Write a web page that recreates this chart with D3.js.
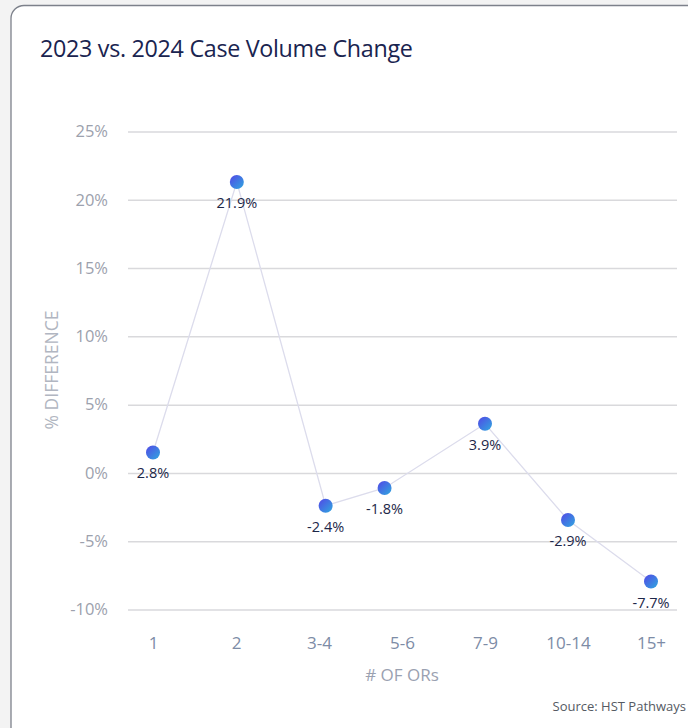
<!DOCTYPE html>
<html>
<head>
<meta charset="utf-8">
<script src="https://cdn.jsdelivr.net/npm/d3@7"></script>
<style>
  html, body { margin: 0; padding: 0; background: #f3f3f3; }
  svg { display: block; }
</style>
</head>
<body>
<svg id="chart" width="688" height="728"></svg>
<script>
// ---- data ----
const categories = ["1", "2", "3-4", "5-6", "7-9", "10-14", "15+"];
const plottedValues = [1.5, 21.3, -2.4, -1.1, 3.6, -3.45, -7.95];
const valueLabels = ["2.8%", "21.9%", "-2.4%", "-1.8%", "3.9%", "-2.9%", "-7.7%"];
const xShift = [0, 0.01, 0.08, -0.21, 0, 0, 0];
const yTicks = [-10, -5, 0, 5, 10, 15, 20, 25];
const title = "2023 vs. 2024 Case Volume Change";
const yTitle = "% DIFFERENCE";
const xTitle = "# OF ORs";
const source = "Source: HST Pathways";

const svg = d3.select("#chart");
const font = "'Open Sans', 'Noto Sans', sans-serif";

// card
svg.append("rect")
  .attr("x", 11).attr("y", 5.5).attr("width", 700).attr("height", 760)
  .attr("rx", 13).attr("fill", "#ffffff")
  .attr("stroke", "#7d818b").attr("stroke-width", 1.3);

const defs = svg.append("defs");
const grad = defs.append("linearGradient").attr("id", "dotGrad")
  .attr("x1", "0%").attr("y1", "0%").attr("x2", "100%").attr("y2", "100%");
grad.append("stop").attr("offset", "0%").attr("stop-color", "#5247e6");
grad.append("stop").attr("offset", "100%").attr("stop-color", "#2fa8df");

// title
svg.append("text").attr("x", 40).attr("y", 57)
  .attr("font-family", font).attr("font-size", 23.3)
  .attr("fill", "#1a2450").attr("letter-spacing", -0.3)
  .text(title);

const x = d3.scalePoint().domain(categories).range([153, 651]);
const step = x.step();
const y = d3.scaleLinear().domain([-10, 25]).range([609.5, 131.5]);

// grid + y labels
const gy = svg.append("g").attr("transform", "translate(128,0)");
gy.call(d3.axisLeft(y).tickValues(yTicks).tickSize(-549).tickFormat(d => d + "%").tickPadding(20))
  .call(g => g.select(".domain").remove())
  .call(g => g.selectAll(".tick line").attr("stroke", "#d9d9dc").attr("stroke-width", 1.5))
  .call(g => g.selectAll(".tick text").attr("fill", "#9ca1ad")
      .attr("font-family", font).attr("font-size", 16.5));

// x labels
const gx = svg.append("g").attr("transform", "translate(0,637)");
gx.call(d3.axisBottom(x).tickSize(0).tickPadding(0))
  .call(g => g.select(".domain").remove())
  .call(g => g.selectAll(".tick text").attr("fill", "#7d8ca6")
      .attr("font-family", font).attr("font-size", 17));

// axis titles
svg.append("text")
  .attr("transform", "translate(58,370) rotate(-90)")
  .attr("text-anchor", "middle").attr("font-family", font)
  .attr("font-size", 17.5).attr("fill", "#b1b6c1")
  .text(yTitle);
svg.append("text").attr("x", 402).attr("y", 681)
  .attr("text-anchor", "middle").attr("font-family", font)
  .attr("font-size", 17).attr("fill", "#9aa1b1")
  .text(xTitle);

// source
svg.append("text").attr("x", 686).attr("y", 711)
  .attr("text-anchor", "end").attr("font-family", font)
  .attr("font-size", 13).attr("fill", "#555a63")
  .text(source);

const pts = categories.map((c, i) => ({
  cx: x(c) + xShift[i] * step,
  cy: y(plottedValues[i]),
  label: valueLabels[i]
}));

svg.append("path").datum(pts)
  .attr("d", d3.line().x(d => d.cx).y(d => d.cy))
  .attr("fill", "none").attr("stroke", "#dcdcec").attr("stroke-width", 1.3);

svg.selectAll("circle.dot").data(pts).join("circle")
  .attr("class", "dot")
  .attr("cx", d => d.cx).attr("cy", d => d.cy).attr("r", 7)
  .attr("fill", "url(#dotGrad)");

svg.selectAll("text.lbl").data(pts).join("text")
  .attr("class", "lbl")
  .attr("x", d => d.cx).attr("y", d => d.cy + 26)
  .attr("text-anchor", "middle").attr("font-family", font)
  .attr("font-size", 14.5).attr("fill", "#1d2748")
  .text(d => d.label);
</script>
</body>
</html>
